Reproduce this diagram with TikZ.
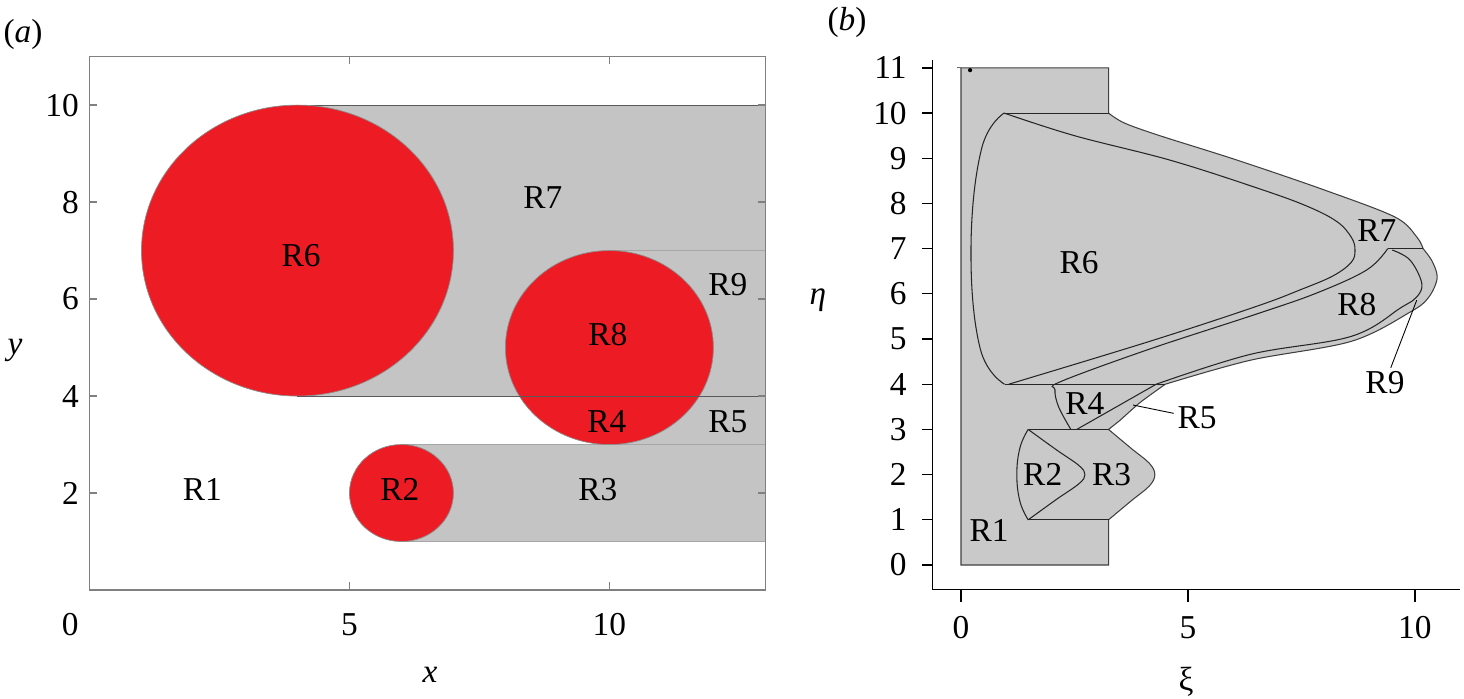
\documentclass[tikz,border=0pt]{standalone}
\usepackage{fontspec}
\setmainfont{Liberation Serif}
\newfontfamily\figfont{Liberation Serif}
\usepackage{tikz}

\definecolor{discred}{HTML}{ED1C24}
\definecolor{bandgray}{HTML}{C4C4C4}
\definecolor{mapgray}{HTML}{C9C9C9}
\definecolor{framegray}{HTML}{8C8C8C}
\tikzset{
  lab/.style={inner sep=0pt},
  edge/.style={draw=black!85, line width=0.6pt},
  lead/.style={inner sep=2pt},
}

\begin{document}
\begin{tikzpicture}[x=0.02cm, y=0.02cm, font=\figfont\fontsize{19}{22}\selectfont]
      \useasboundingbox (0,0) rectangle (1464,698);
      \node[lab] (tagA) at (23,664) {(\textit{a})};
      \node[lab] (tagB) at (847,676) {(\textit{b})};
      \node[lab] (labx) at (430,23) {\textit{x}};
      \node[lab] (laby) at (15,348) {\textit{y}};
      \node[lab] (labeta) at (818,398) {\textit{η}};
      \node[lab] (labxi) at (1186,16) {ξ};

      % (a) physical plane
      \begin{scope}[shift={(89.5,108)}, x=1.04cm, y=0.97cm]
        \fill[bandgray] (4,4) rectangle (13,10);
        \fill[bandgray] (10,3) rectangle (13,7);
        \fill[bandgray] (6,1) rectangle (13,3);
        \draw[black!65, line width=0.6pt] (4,10) -- (13,10);
        \draw[black!35, line width=0.6pt] (10,7) -- (13,7);
        \draw[black!35, line width=0.6pt] (6,3) -- (13,3);
        \draw[black!35, line width=0.6pt] (6,1) -- (13,1);
        \filldraw[fill=discred, draw=framegray, line width=0.4pt] (4,7) circle [radius=3];
        \filldraw[fill=discred, draw=framegray, line width=0.4pt] (10,5) circle [radius=2];
        \filldraw[fill=discred, draw=framegray, line width=0.4pt] (6,2) circle [radius=1];
        \draw[black!65, line width=0.6pt] (4,4) -- (13,4);
        \draw[black!50, line width=0.8pt] (0,0) rectangle (13,11);
        \foreach \y in {2,4,...,10} {
          \draw[black!50, line width=0.8pt] (0,\y) -- ++(0.15,0);
          \draw[black!50, line width=0.8pt] (13,\y) -- ++(-0.15,0);
          \node[lab, anchor=east] (ay\y) at (-0.2,\y) {\y};
        }
        \foreach \x in {5,10} {
          \draw[black!50, line width=0.8pt] (\x,0) -- ++(0,0.16);
          \draw[black!50, line width=0.8pt] (\x,11) -- ++(0,-0.16);
          \node[lab] (ax\x) at (\x,-0.72) {\x};
        }
        \node[lab] (ax0) at (-0.37,-0.72) {0};
        \node[lab] (ar1) at (2.17,2.08) {R1};
        \node[lab] (ar2) at (5.97,2.08) {R2};
        \node[lab] (ar3) at (9.78,2.08) {R3};
        \node[lab] (ar4) at (9.95,3.48) {R4};
        \node[lab] (ar5) at (12.28,3.46) {R5};
        \node[lab] (ar6) at (4.07,6.9) {R6};
        \node[lab] (ar7) at (8.72,8.1) {R7};
        \node[lab] (ar8) at (9.97,5.26) {R8};
        \node[lab] (ar9) at (12.28,6.29) {R9};
      \end{scope}

      % (b) mapped plane
      \begin{scope}[shift={(961,133)}, x=0.908cm, y=0.904cm]
        \filldraw[fill=mapgray, draw=black!75, line width=0.6pt]
          (0,0) -- (0,11) -- (3.25,11) -- (3.25,10)
          -- plot[smooth, tension=0.55] coordinates {(3.25,10) (3.6,9.78) (4.38,9.5) (6.08,8.96) (8.0,8.3) (9.56,7.7) (10.04,7.26) (10.18,7.0)}
          -- plot[smooth, tension=0.55] coordinates {(10.18,7.0) (10.38,6.72) (10.49,6.35) (10.3,5.92) (9.9,5.6) (8.6,4.95) (6.37,4.53) (4.5,4.0)}
          -- plot[smooth, tension=0.4] coordinates {(4.5,4.0) (3.95,3.6) (3.5,3.2) (3.25,3.0)}
          -- plot[smooth, tension=0.6] coordinates {(3.25,3) (3.75,2.58) (4.15,2.25) (4.27,2) (4.15,1.75) (3.75,1.42) (3.25,1)}
          -- (3.25,0) -- cycle;
        \draw[black!60, line width=0.6pt] (-0.09,11) -- (0,11);
        \fill (0.2,10.95) circle (1.2pt);
        \draw[edge] (0.95,10) -- (3.25,10);
        \draw[edge] (0.96,4) -- (4.5,4);
        \draw[edge] (1.48,3) -- (3.25,3);
        \draw[edge] (1.48,1) -- (3.25,1);
        \draw[edge] (9.4,7) -- (10.18,7);
        \draw[edge] plot[smooth, tension=0.7] coordinates {(0.95,10) (0.45,9.2) (0.22,7) (0.42,4.8) (0.96,4)};
        \draw[edge] plot[smooth, tension=0.6] coordinates {(0.95,10) (2.5,9.5) (4.6,8.96) (6.5,8.35) (7.6,7.95) (8.28,7.6) (8.6,7.25) (8.68,6.97) (8.6,6.7) (8.2,6.4) (7.5,6.1) (6.5,5.72) (4.16,4.95) (1.05,4)};
        \draw[edge] plot[smooth, tension=0.6] coordinates {(2.42,3) (2.15,3.5) (2.07,3.88) (2.2,4.06) (4.16,4.78) (6.5,5.55) (7.84,6.02) (8.94,6.53) (9.4,7)};
        \draw[edge] (2.55,3) -- (4.3,4) -- plot[smooth, tension=0.6] coordinates {(4.3,4) (6.37,4.66) (8.6,5.06) (9.7,5.7) (10.04,5.93) (10.15,6.24) (9.89,6.75) (9.5,6.97)};
        \draw[edge] plot[smooth, tension=0.7] coordinates {(1.48,3) (1.3,2.6) (1.23,2) (1.3,1.4) (1.48,1)};
        \draw[edge] plot[smooth, tension=0.6] coordinates {(1.48,3) (2.1,2.55) (2.6,2.2) (2.73,2) (2.6,1.8) (2.1,1.45) (1.48,1)};
        \draw[black, line width=0.7pt] (-0.62,11.17) -- (-0.62,-0.55) -- (10.99,-0.55);
        \foreach \e in {0,...,11} {
          \draw[black, line width=0.7pt] (-0.62,\e) -- ++(-0.24,0);
          \node[lab, anchor=east] (be\e) at (-1.19,\e) {\e};
        }
        \foreach \x in {0,5,10} {
          \draw[black, line width=0.7pt] (\x,-0.55) -- ++(0,-0.27);
          \node[lab] (bx\x) at (\x,-1.39) {\x};
        }
        \node[lab] (br1) at (0.62,0.77) {R1};
        \node[lab] (br2) at (1.8,2.0) {R2};
        \node[lab] (br3) at (3.32,2.0) {R3};
        \node[lab] (br4) at (2.73,3.58) {R4};
        \node[lead] (br5) at (5.2,3.25) {R5};
        \node[lab] (br6) at (2.6,6.7) {R6};
        \node[lab] (br7) at (9.16,7.41) {R7};
        \node[lab] (br8) at (8.72,5.77) {R8};
        \node[lead] (br9) at (9.34,4.03) {R9};
        \coordinate (r5tip) at (3.79,3.54);
        \coordinate (r9tip) at (10.04,5.86);
        \draw[black, line width=0.5pt] (r5tip) -- (br5);
        \draw[black, line width=0.5pt] (r9tip) -- (br9);
      \end{scope}
    \end{tikzpicture}
\end{document}
